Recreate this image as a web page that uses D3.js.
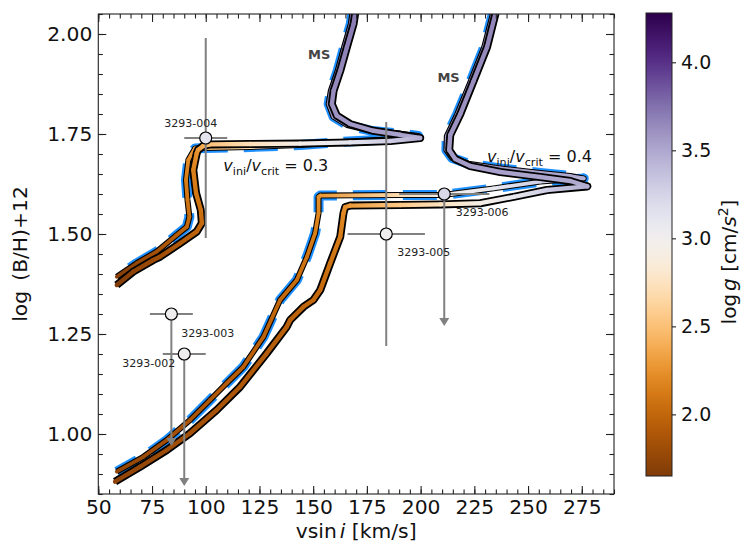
<!DOCTYPE html>
<html>
<head>
<meta charset="utf-8">
<script src="https://cdn.jsdelivr.net/npm/d3@7"></script>
<style>
  body { margin: 0; background: #fff; }
  svg { display: block; font-family: "DejaVu Sans", sans-serif; }
</style>
</head>
<body>
<svg id="chart" width="750" height="544"></svg>
<script>
// ---------------- axis ticks ----------------
const xTicks = [50, 75, 100, 125, 150, 175, 200, 225, 250, 275];
const yTicks = [1.00, 1.25, 1.50, 1.75, 2.00];
const loggTicks = [2.0, 2.5, 3.0, 3.5, 4.0];

// ---------------- observed stars ----------------
const starIds        = ["3293-004", "3293-003", "3293-002", "3293-005", "3293-006"];
const starVsini      = [100, 84, 90, 184, 211];
const starVsiniErr   = [10, 10, 10, 18, 21];
const starLogBH      = [1.74, 1.30, 1.20, 1.50, 1.60];
const starLogBHErr   = [0.25, 0.32, 0.32, 0.28, 0.32];
const starUpperLimit = [false, true, true, false, true];
const starLogg       = [3.12, 3.02, 3.02, 3.02, 3.22];

// ---------------- evolutionary tracks, v_ini/v_crit = 0.3 ----------------
// solid track
const trk03Vsini = [170.5, 168.8, 165.7, 162.6, 159.5, 158.7, 161.0, 167.2, 178.1, 190.5, 199.8,
                    185.9, 167.2, 143.9, 120.7, 102.0, 98.8, 96.4, 95.8, 94.2, 95.5, 97.7, 98.2,
                    95.8, 88.1, 78.7, 75.6, 66.3, 58.6];
const trk03LogBH = [2.085, 2.025, 1.967, 1.908, 1.858, 1.825, 1.796, 1.775, 1.758, 1.748, 1.740,
                    1.7325, 1.729, 1.726, 1.725, 1.724, 1.720, 1.710, 1.702, 1.660, 1.602, 1.560, 1.527,
                    1.506, 1.477, 1.443, 1.435, 1.406, 1.3725];
const trk03Logg  = [3.72, 3.70, 3.68, 3.66, 3.64, 3.62, 3.60, 3.58, 3.56, 3.53, 3.48,
                    3.30, 3.12, 2.95, 2.72, 2.52, 2.40, 2.30, 2.24, 2.16, 2.10, 2.06, 2.02,
                    1.98, 1.90, 1.82, 1.79, 1.72, 1.66];
// dashed track
const trk03dVsini = [169.1, 167.5, 164.4, 161.4, 158.2, 157.2, 159.5, 165.8, 177.5, 190.5, 198.9,
                     183.5, 162.6, 143.9, 120.7, 99.7, 95.0, 91.9, 90.8, 91.5, 92.4, 91.2,
                     86.5, 77.2, 67.9, 58.6];
const trk03dLogBH = [2.085, 2.025, 1.967, 1.908, 1.858, 1.825, 1.793, 1.7725, 1.7575, 1.751, 1.745,
                     1.736, 1.730, 1.7225, 1.7175, 1.715, 1.714, 1.685, 1.635, 1.585, 1.543, 1.518,
                     1.4975, 1.456, 1.427, 1.393];
const trk03dLogg  = [3.72, 3.70, 3.68, 3.66, 3.64, 3.62, 3.60, 3.58, 3.56, 3.53, 3.48,
                     3.28, 3.08, 2.93, 2.70, 2.45, 2.33, 2.22, 2.14, 2.09, 2.04, 2.00,
                     1.93, 1.84, 1.75, 1.68];

// ---------------- evolutionary tracks, v_ini/v_crit = 0.4 ----------------
// solid track
const trk04Vsini = [235.7, 234.8, 230.9, 224.7, 218.5, 213.8, 213.3, 216.1, 223.1, 237.1, 255.7, 269.7, 277.6,
                    258.8, 243.3, 227.8, 209.2, 190.5, 167.2, 164.9, 164.1, 162.6, 157.9, 153.3, 150.1,
                    145.5, 139.3, 137.7, 128.4, 116.0, 105.1, 92.7, 81.9, 69.4, 57.8];
const trk04LogBH = [2.085, 2.050, 1.967, 1.883, 1.800, 1.7475, 1.710, 1.6875, 1.670, 1.655, 1.6425, 1.6325, 1.619,
                    1.610, 1.593, 1.577, 1.574, 1.5725, 1.571, 1.5675, 1.552, 1.493, 1.427, 1.360, 1.335,
                    1.318, 1.285, 1.268, 1.2018, 1.118, 1.060, 1.0018, 0.960, 0.918, 0.881];
const trk04Logg  = [3.68, 3.67, 3.65, 3.63, 3.61, 3.59, 3.57, 3.56, 3.55, 3.54, 3.52, 3.50, 3.47,
                    3.30, 3.08, 2.92, 2.75, 2.55, 2.30, 2.24, 2.20, 2.13, 2.07, 2.02, 2.00,
                    1.98, 1.96, 1.95, 1.92, 1.89, 1.86, 1.83, 1.80, 1.76, 1.72];
// dashed track
const trk04dVsini = [234.5, 233.6, 229.6, 223.4, 217.1, 212.2, 212.0, 214.7, 222.2, 237.1, 255.7, 269.7, 275.9,
                     255.7, 234.0, 210.5, 190.5, 153.3, 152.5, 152.5, 150.9, 147.1, 142.4, 134.6,
                     126.9, 117.5, 109.8, 102.0, 92.7, 81.9, 71.0, 58.6];
const trk04dLogBH = [2.085, 2.050, 1.967, 1.883, 1.800, 1.745, 1.710, 1.690, 1.676, 1.664, 1.6525, 1.645, 1.639,
                     1.631, 1.614, 1.5975, 1.5975, 1.596, 1.5925, 1.552, 1.502, 1.443, 1.385, 1.335,
                     1.243, 1.168, 1.127, 1.085, 1.035, 0.985, 0.943, 0.906];
const trk04dLogg  = [3.68, 3.67, 3.65, 3.63, 3.61, 3.59, 3.57, 3.56, 3.55, 3.54, 3.52, 3.50, 3.47,
                     3.28, 3.10, 2.95, 2.70, 2.28, 2.23, 2.19, 2.14, 2.08, 2.04, 2.01,
                     1.97, 1.94, 1.92, 1.89, 1.86, 1.82, 1.78, 1.74];

// ---------------- in-plot annotations ----------------
const msLabelVsini = [152.8, 213.0];
const msLabelLogBH = [1.9375, 1.880];
const rotLabelValue = ["0.3", "0.4"];
const rotLabelVsini = [108.2, 230.9];
const rotLabelLogBH = [1.6575, 1.679];

// ---------------- layout ----------------
const plot = { left: 98.3, right: 614, top: 14, bottom: 494 };
const cbBox = { x: 646, y: 13, w: 26, h: 463 };
const loggDomain = [1.65, 4.28];
const tickFont = 20.3;

const svg = d3.select("#chart");
const x = d3.scaleLinear().domain([50, 290]).range([plot.left, plot.right]);
const y = d3.scaleLinear().domain([0.85, 2.05]).range([plot.bottom, plot.top]);
// brown for low gravity, purple for high gravity
const puOr = t => d3.interpolatePuOr(1 - t);
const color = d3.scaleSequential(puOr).domain(loggDomain);

const defs = svg.append("defs");
defs.append("clipPath").attr("id", "plotClip")
  .append("rect")
  .attr("x", plot.left).attr("y", plot.top)
  .attr("width", plot.right - plot.left).attr("height", plot.bottom - plot.top);

// ---------------- tracks ----------------
const tracks = [
  { vs: trk04dVsini, bh: trk04dLogBH, g: trk04dLogg, dashed: true },
  { vs: trk03dVsini, bh: trk03dLogBH, g: trk03dLogg, dashed: true },
  { vs: trk04Vsini,  bh: trk04LogBH,  g: trk04Logg,  dashed: false },
  { vs: trk03Vsini,  bh: trk03LogBH,  g: trk03Logg,  dashed: false }
];

const gTracks = svg.append("g").attr("clip-path", "url(#plotClip)");
const lineGen = d3.line();
let gradCount = 0;

tracks.forEach(t => {
  const pts = t.vs.map((v, i) => [x(v), y(t.bh[i])]);
  const g = gTracks.append("g");
  if (t.dashed) {
    g.append("path").attr("d", lineGen(pts))
      .attr("fill", "none").attr("stroke", "#1e90ff")
      .attr("stroke-width", 10).attr("stroke-dasharray", "34,16")
      .attr("stroke-linejoin", "round");
    g.append("path").attr("d", lineGen(pts))
      .attr("fill", "none").attr("stroke", "#000")
      .attr("stroke-width", 6).attr("stroke-linejoin", "round");
  } else {
    g.append("path").attr("d", lineGen(pts))
      .attr("fill", "none").attr("stroke", "#000")
      .attr("stroke-width", 8).attr("stroke-linejoin", "round");
  }
  const coreW = t.dashed ? 3.8 : 4.4;
  for (let i = 0; i < pts.length - 1; i++) {
    const id = "seg" + (gradCount++);
    const grad = defs.append("linearGradient").attr("id", id)
      .attr("gradientUnits", "userSpaceOnUse")
      .attr("x1", pts[i][0]).attr("y1", pts[i][1])
      .attr("x2", pts[i + 1][0]).attr("y2", pts[i + 1][1]);
    grad.append("stop").attr("offset", 0).attr("stop-color", color(t.g[i]));
    grad.append("stop").attr("offset", 1).attr("stop-color", color(t.g[i + 1]));
    g.append("line")
      .attr("x1", pts[i][0]).attr("y1", pts[i][1])
      .attr("x2", pts[i + 1][0]).attr("y2", pts[i + 1][1])
      .attr("stroke", `url(#${id})`)
      .attr("stroke-width", coreW).attr("stroke-linecap", "round");
  }
});

// ---------------- stars with error bars ----------------
const gStars = svg.append("g");
const errColor = "#808080";
const labelPlacement = [
  { dx: -15, dy: -11, anchor: "middle" },
  { dx: 10, dy: 22.5, anchor: "start" },
  { dx: -9, dy: 13, anchor: "end" },
  { dx: 11, dy: 22.4, anchor: "start" },
  { dx: 11.4, dy: 22.4, anchor: "start" }
];

starIds.forEach((id, i) => {
  const cx = x(starVsini[i]), cy = y(starLogBH[i]);
  gStars.append("line")
    .attr("x1", x(starVsini[i] - starVsiniErr[i])).attr("x2", x(starVsini[i] + starVsiniErr[i]))
    .attr("y1", cy).attr("y2", cy)
    .attr("stroke", errColor).attr("stroke-width", 2);
  if (starUpperLimit[i]) {
    const yEnd = y(starLogBH[i] - starLogBHErr[i]);
    gStars.append("line")
      .attr("x1", cx).attr("x2", cx).attr("y1", cy).attr("y2", yEnd)
      .attr("stroke", errColor).attr("stroke-width", 2);
    gStars.append("path")
      .attr("d", `M${cx - 5},${yEnd - 4}L${cx + 5},${yEnd - 4}L${cx},${yEnd + 4}Z`)
      .attr("fill", errColor);
  } else {
    gStars.append("line")
      .attr("x1", cx).attr("x2", cx)
      .attr("y1", y(starLogBH[i] + starLogBHErr[i])).attr("y2", y(starLogBH[i] - starLogBHErr[i]))
      .attr("stroke", errColor).attr("stroke-width", 2);
  }
});
starIds.forEach((id, i) => {
  const cx = x(starVsini[i]), cy = y(starLogBH[i]);
  gStars.append("circle").attr("cx", cx).attr("cy", cy).attr("r", 6)
    .attr("fill", color(starLogg[i])).attr("stroke", "#000").attr("stroke-width", 1.2);
  const p = labelPlacement[i];
  gStars.append("text").attr("x", cx + p.dx).attr("y", cy + p.dy)
    .attr("text-anchor", p.anchor).attr("font-size", 11).attr("fill", "#222")
    .text(id);
});

// ---------------- annotations ----------------
msLabelVsini.forEach((v, i) => {
  svg.append("text").attr("x", x(v)).attr("y", y(msLabelLogBH[i]))
    .attr("text-anchor", "middle").attr("font-size", 13).attr("font-weight", "bold")
    .attr("fill", "#444").text("MS");
});
rotLabelValue.forEach((val, i) => {
  const t = svg.append("text").attr("x", x(rotLabelVsini[i])).attr("y", y(rotLabelLogBH[i]))
    .attr("font-size", 16).attr("fill", "#111");
  t.append("tspan").attr("font-style", "italic").text("v");
  t.append("tspan").attr("font-size", 11.2).attr("dy", 3.5).text("ini");
  t.append("tspan").attr("dy", -3.5).text("/");
  t.append("tspan").attr("font-style", "italic").text("v");
  t.append("tspan").attr("font-size", 11.2).attr("dy", 3.5).text("crit");
  t.append("tspan").attr("dy", -3.5).text("\u00a0=\u00a0" + val);
});

// ---------------- axes ----------------
const xMinor = d3.range(50, 291, 5);
const yMinor = d3.range(0, 25).map(k => +(0.85 + k * 0.05).toFixed(2)).filter(v => v <= 2.05);

function styleAxis(g) {
  g.select(".domain").remove();
  g.selectAll(".tick line").attr("stroke", "#222").attr("stroke-width", 1.1);
  g.selectAll(".tick text").attr("fill", "#111").attr("font-size", tickFont)
    .attr("font-family", "DejaVu Sans, sans-serif");
}

svg.append("g").attr("transform", `translate(0,${plot.bottom})`)
  .call(d3.axisBottom(x).tickValues(xMinor).tickFormat("").tickSizeInner(-4.5).tickSizeOuter(0)).call(styleAxis);
svg.append("g").attr("transform", `translate(0,${plot.bottom})`)
  .call(d3.axisBottom(x).tickValues(xTicks).tickFormat(d3.format("d")).tickSizeInner(-8).tickSizeOuter(0).tickPadding(5.5)).call(styleAxis);
svg.append("g").attr("transform", `translate(0,${plot.top})`)
  .call(d3.axisTop(x).tickValues(xMinor).tickFormat("").tickSizeInner(-4.5).tickSizeOuter(0)).call(styleAxis);
svg.append("g").attr("transform", `translate(0,${plot.top})`)
  .call(d3.axisTop(x).tickValues(xTicks).tickFormat("").tickSizeInner(-8).tickSizeOuter(0)).call(styleAxis);

svg.append("g").attr("transform", `translate(${plot.left},0)`)
  .call(d3.axisLeft(y).tickValues(yMinor).tickFormat("").tickSizeInner(-4.5).tickSizeOuter(0)).call(styleAxis);
svg.append("g").attr("transform", `translate(${plot.left},0)`)
  .call(d3.axisLeft(y).tickValues(yTicks).tickFormat(d3.format(".2f")).tickSizeInner(-8).tickSizeOuter(0).tickPadding(6)).call(styleAxis);
svg.append("g").attr("transform", `translate(${plot.right},0)`)
  .call(d3.axisRight(y).tickValues(yMinor).tickFormat("").tickSizeInner(-4.5).tickSizeOuter(0)).call(styleAxis);
svg.append("g").attr("transform", `translate(${plot.right},0)`)
  .call(d3.axisRight(y).tickValues(yTicks).tickFormat("").tickSizeInner(-8).tickSizeOuter(0)).call(styleAxis);

svg.append("rect")
  .attr("x", plot.left).attr("y", plot.top)
  .attr("width", plot.right - plot.left).attr("height", plot.bottom - plot.top)
  .attr("fill", "none").attr("stroke", "#222").attr("stroke-width", 1.1);

// axis titles
const xTitle = svg.append("text").attr("x", (plot.left + plot.right) / 2).attr("y", 537.5)
  .attr("text-anchor", "middle").attr("font-size", tickFont).attr("fill", "#111");
xTitle.append("tspan").text("vsin");
xTitle.append("tspan").attr("dx", 3).attr("font-style", "italic").text("i");
xTitle.append("tspan").text("\u00a0[km/s]");

svg.append("text")
  .attr("transform", `translate(27,${(plot.top + plot.bottom) / 2}) rotate(-90)`)
  .attr("text-anchor", "middle").attr("font-size", tickFont).attr("fill", "#111")
  .text("log\u2002(B/H)+12");

// ---------------- colour bar ----------------
const cbGrad = defs.append("linearGradient").attr("id", "cbGrad")
  .attr("x1", 0).attr("y1", 1).attr("x2", 0).attr("y2", 0);
d3.range(0, 1.0001, 0.02).forEach(t => {
  cbGrad.append("stop").attr("offset", t).attr("stop-color", puOr(t));
});
svg.append("rect").attr("x", cbBox.x).attr("y", cbBox.y).attr("width", cbBox.w).attr("height", cbBox.h)
  .attr("fill", "url(#cbGrad)").attr("stroke", "#222").attr("stroke-width", 1);

const cbScale = d3.scaleLinear().domain(loggDomain).range([cbBox.y + cbBox.h, cbBox.y]);
svg.append("g").attr("transform", `translate(${cbBox.x + cbBox.w},0)`)
  .call(d3.axisRight(cbScale).tickValues(loggTicks).tickFormat(d3.format(".1f")).tickSizeInner(4).tickSizeOuter(0).tickPadding(5))
  .call(g => {
    g.select(".domain").remove();
    g.selectAll(".tick line").attr("stroke", "#222").attr("stroke-width", 1.1);
    g.selectAll(".tick text").attr("fill", "#111").attr("font-size", 19)
      .attr("font-family", "DejaVu Sans, sans-serif");
  });

const cbTitle = svg.append("text")
  .attr("transform", `translate(736,262) rotate(-90)`)
  .attr("text-anchor", "middle").attr("font-size", 20).attr("fill", "#111");
cbTitle.append("tspan").text("log");
cbTitle.append("tspan").attr("dx", 3).attr("font-style", "italic").text("g");
cbTitle.append("tspan").text("\u00a0[cm/");
cbTitle.append("tspan").attr("font-style", "italic").text("s");
cbTitle.append("tspan").attr("font-size", 14).attr("dy", -8).text("2");
cbTitle.append("tspan").attr("dy", 8).text("]");
</script>
</body>
</html>
